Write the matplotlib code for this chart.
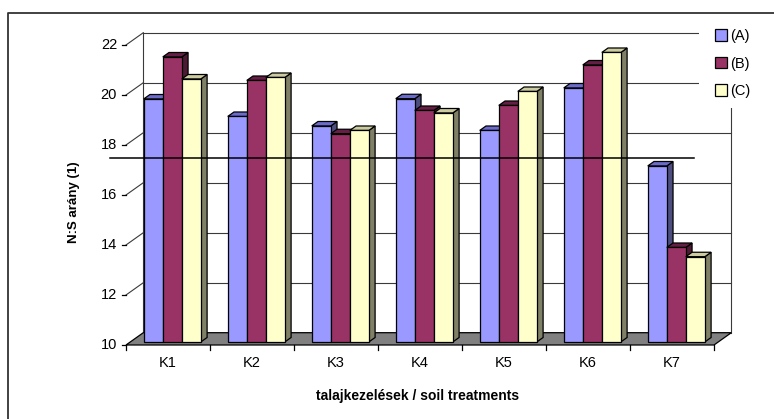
import matplotlib
matplotlib.use("Agg")
import matplotlib.pyplot as plt
from matplotlib.patches import Polygon, Patch, Rectangle
from matplotlib.lines import Line2D
from matplotlib.transforms import offset_copy

plt.rcParams['font.family'] = ['Liberation Sans', 'DejaVu Sans']

# ---- data -------------------------------------------------------------
categories = ["K1", "K2", "K3", "K4", "K5", "K6", "K7"]
series_names = ["(A)", "(B)", "(C)"]
values_a = [19.72, 19.02, 18.64, 19.73, 18.46, 20.16, 17.04]
values_b = [21.40, 20.46, 18.33, 19.26, 19.46, 21.08, 13.78]
values_c = [20.52, 20.58, 18.46, 19.16, 20.02, 21.58, 13.41]
y_ticks = [10, 12, 14, 16, 18, 20, 22]
reference_level = 17.47

# ---- styling ------------------------------------------------------------
front_colors = ["#9999FF", "#993366", "#FFFFCC"]
top_colors = ["#6B6BCC", "#661F44", "#CCCCA0"]
side_colors = ["#4D4D80", "#4D1A33", "#808066"]

W, H = 774, 419
fig = plt.figure(figsize=(W / 100, H / 100), dpi=100)
fig.patch.set_facecolor("white")

# front plane of the 3-D box
ax = fig.add_axes([126 / W, (H - 345) / H, 588 / W, 300 / H])
ax.set_xlim(0, len(categories))
ax.set_ylim(y_ticks[0], y_ticks[-1])
ax.axis("off")

# depth offsets (full depth) in data units
DX = 17.3 / 84.0
DY = 12.3 / 25.0
D0, D1 = 0.25, 0.61          # depth range occupied by the columns
BW = 0.2266                  # column width (category units)
GROUP_HALF = 0.34

y0, y1 = y_ticks[0], y_ticks[-1]
nx = len(categories)


def P(x, y, d):
    return (x + d * DX, y + d * DY)


grid_kw = dict(color="#3a3a3a", lw=0.8, clip_on=False, zorder=1)

# back wall gridlines
for t in y_ticks[1:]:
    xs, ys = zip(P(0, t, 1), P(nx, t, 1))
    ax.plot(xs, ys, **grid_kw)
# left wall gridlines (diagonal)
for t in y_ticks[1:]:
    xs, ys = zip(P(0, t, 0), P(0, t, 1))
    ax.plot(xs, ys, **grid_kw)
# back wall vertical edges
for xe in (0, nx):
    xs, ys = zip(P(xe, y0, 1), P(xe, y1, 1))
    ax.plot(xs, ys, **grid_kw)

# floor
floor = Polygon([P(0, y0, 0), P(nx, y0, 0), P(nx, y0, 1), P(0, y0, 1)],
                closed=True, facecolor="#808080", edgecolor="black",
                lw=0.9, clip_on=False, zorder=2)
ax.add_patch(floor)

# y ticks and labels
tick_len = 4.5 / 84.0
for t in y_ticks:
    ax.plot([-tick_len, 0], [t, t], color="black", lw=0.9,
            clip_on=False, zorder=2)
    ax.text(0, t, str(t), transform=offset_copy(ax.transData, fig, x=-9,
                                                 y=0, units="dots"),
            ha="right", va="center", fontsize=10.5, color="black")

# x ticks and labels
tick_h = 5 / 25.0
for k in range(nx + 1):
    ax.plot([k, k], [y0, y0 - tick_h], color="black", lw=0.9,
            clip_on=False, zorder=2)
for i, c in enumerate(categories):
    ax.text(i + 0.5, y0, c, transform=offset_copy(ax.transData, fig, x=0,
                                                  y=-18, units="dots"),
            ha="center", va="center", fontsize=10.5, color="black")

# columns
series = [values_a, values_b, values_c]
zo = 3
for i in range(nx):
    for j, vals in enumerate(series):
        v = vals[i]
        xl = i + 0.5 - GROUP_HALF + j * BW
        xr = xl + BW
        side = [P(xr, y0, D0), P(xr, y0, D1), P(xr, v, D1), P(xr, v, D0)]
        top = [P(xl, v, D0), P(xr, v, D0), P(xr, v, D1), P(xl, v, D1)]
        front = [P(xl, y0, D0), P(xr, y0, D0), P(xr, v, D0), P(xl, v, D0)]
        for pts, col in ((side, side_colors[j]), (top, top_colors[j]),
                         (front, front_colors[j])):
            ax.add_patch(Polygon(pts, closed=True, facecolor=col,
                                 edgecolor="black", lw=0.9,
                                 joinstyle="miter", clip_on=False,
                                 zorder=zo))
        zo += 0.01

# horizontal reference line
ax.plot([-0.19, 6.76], [reference_level, reference_level], color="black",
        lw=1.1, clip_on=False, zorder=6)

# axis titles
fig.text(74 / W, 1 - 202.5 / H, "N:S arány (1)", rotation=90,
         ha="center", va="center", fontsize=9.5, fontweight="bold")
fig.text(417.5 / W, 1 - 396 / H, "talajkezelések / soil treatments",
         ha="center", va="center", fontsize=10, fontweight="bold")

# white area behind the legend
fig.patches.append(Rectangle((699 / W, 1 - 108 / H), 75 / W, 88 / H,
                             transform=fig.transFigure, facecolor="white",
                             edgecolor="none", zorder=1))

handles = [Patch(facecolor=c, edgecolor="black", lw=0.9)
           for c in front_colors]
fig.legend(handles, series_names, loc="upper left",
           bbox_to_anchor=(715 / W, 1 - 29 / H), frameon=False,
           fontsize=10.5, handlelength=0.8, handleheight=0.8,
           handletextpad=0.25, labelspacing=0.93, borderaxespad=0,
           borderpad=0)

# outer chart frame
fig.lines.append(Line2D([8 / W, 8 / W, 1.0], [0.0, 1 - 12.7 / H, 1 - 12.7 / H],
                        transform=fig.transFigure, color="#333333",
                        lw=1.3, zorder=2))

fig.savefig("out.png", dpi=100)
